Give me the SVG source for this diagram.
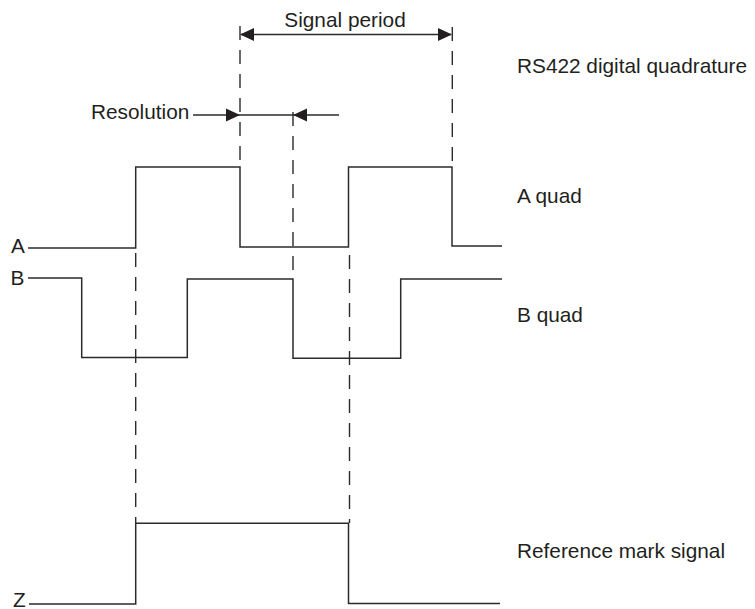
<svg xmlns="http://www.w3.org/2000/svg" width="755" height="609" viewBox="0 0 755 609">
  <style>
    .lbl { font-family: "Liberation Sans", Arial, sans-serif; font-size: 20.8px; fill: #231f20; }
    .sig { fill: none; stroke: #2b2b2b; stroke-width: 1.5; stroke-linejoin: miter; }
    .dash { fill: none; stroke: #2b2b2b; stroke-width: 1.4; stroke-dasharray: 14 10; }
    .dim { fill: none; stroke: #2b2b2b; stroke-width: 1.4; }
    .head { fill: #231f20; }
  </style>

  <rect width="755" height="609" fill="#ffffff"/>

  <!-- Waveforms -->
  <g id="signal-a">
    <text class="lbl" x="11" y="253">A</text>
    <polyline class="sig" points="28,248 135.7,248 135.7,167 240,167 240,247 348.5,247 348.5,167 452,167 452,246 502,246"/>
    <text class="lbl" x="517" y="203">A quad</text>
  </g>

  <g id="signal-b">
    <text class="lbl" x="10.5" y="284.5">B</text>
    <polyline class="sig" points="28,278 81.7,278 81.7,357.5 187.3,357.5 187.3,279 293,279 293,358.3 400.7,358.3 400.7,279 502,279"/>
    <text class="lbl" x="517" y="322">B quad</text>
  </g>

  <g id="signal-z">
    <text class="lbl" x="13" y="606.5">Z</text>
    <polyline class="sig" points="29,604 135.7,604 135.7,523.3 348.5,523.3 348.5,603.5 500,603.5"/>
    <text class="lbl" x="517" y="558">Reference mark signal</text>
  </g>

  <g id="title">
    <text class="lbl" x="517" y="73">RS422 digital quadrature</text>
  </g>

  <!-- Timing guides and dimension arrows -->
  <g id="connectors">
    <line class="dash" x1="240" y1="26" x2="240" y2="167"/>
    <line class="dash" x1="452.3" y1="27" x2="452.3" y2="167"/>
    <line class="dash" x1="293" y1="112" x2="293" y2="279"/>
    <line class="dash" x1="135.7" y1="253" x2="135.7" y2="523"/>
    <line class="dash" x1="349.5" y1="255" x2="349.5" y2="523"/>

    <!-- Signal period -->
    <line class="dim" x1="241" y1="34.5" x2="451" y2="34.5"/>
    <polygon class="head" points="240,34.5 254,28 254,41"/>
    <polygon class="head" points="452,34.5 438,28 438,41"/>

    <!-- Resolution -->
    <line class="dim" x1="193" y1="115" x2="339" y2="115"/>
    <polygon class="head" points="240,115 226,108.5 226,121.5"/>
    <polygon class="head" points="293,115 307,108.5 307,121.5"/>
  </g>

  <g id="dimension-labels">
    <text class="lbl" x="345" y="27" text-anchor="middle">Signal period</text>
    <text class="lbl" x="91" y="119">Resolution</text>
  </g>
</svg>
